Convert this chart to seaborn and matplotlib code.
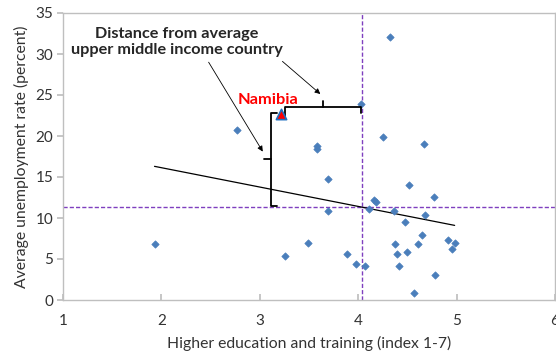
import matplotlib
matplotlib.use("Agg")
import matplotlib.pyplot as plt
import seaborn as sns
import pandas as pd

# Country scores: higher education and training index vs. unemployment rate
education = [1.93, 2.77, 3.26, 3.49, 3.58, 3.58, 3.69, 3.69, 3.89, 3.98,
             4.07, 4.03, 4.32, 4.25, 4.67, 4.16, 4.18, 4.11, 4.36, 4.52,
             4.77, 4.68, 4.48, 4.65, 4.37, 4.61, 4.39, 4.50, 4.41, 4.91,
             4.95, 4.98, 4.78, 4.57]
unemployment = [6.8, 20.7, 5.4, 6.9, 18.8, 18.4, 14.7, 10.8, 5.6, 4.4,
                4.1, 23.9, 32.1, 19.9, 19.0, 12.2, 11.95, 11.1, 10.9, 14.0,
                12.6, 10.4, 9.5, 7.9, 6.8, 6.8, 5.6, 5.9, 4.1, 7.3,
                6.2, 6.9, 3.0, 0.9]

# Highlighted country
namibia_name = "Namibia"
namibia_x = 3.22
namibia_y = 22.7

# Upper middle income averages
avg_education = 4.04
avg_unemployment = 11.3

# Linear trend endpoints
trend_x = [1.93, 4.98]
trend_y = [16.3, 9.1]

x_ticks = [1, 2, 3, 4, 5, 6]
y_ticks = [0, 5, 10, 15, 20, 25, 30, 35]

df = pd.DataFrame({"education": education, "unemployment": unemployment})

sns.set_theme(style="white")
plt.rcParams["font.family"] = ["Lato", "DejaVu Sans"]

fig = plt.figure(figsize=(5.56, 3.58), dpi=100)
ax = fig.add_axes([63 / 556, 1 - 300 / 358, 492 / 556, 287 / 358])

sns.scatterplot(data=df, x="education", y="unemployment", ax=ax,
                marker="D", s=14, color="#4A7EBB", edgecolor="#4A7EBB",
                linewidth=0.5, zorder=3)

# Namibia marker
ax.scatter([namibia_x], [namibia_y], marker="^", s=55, color="#FF0000",
           edgecolor="#1F6FC0", linewidth=1.2, zorder=4)
ax.text(namibia_x - 0.14, namibia_y + 1.75, namibia_name, color="#FF0000",
        fontsize=11.8, fontweight="bold", ha="center", va="center")

# Average reference lines
purple = "#7F3FBF"
ax.axhline(avg_unemployment, color=purple, lw=1.0, ls=(0, (3, 1.5)), zorder=2)
ax.axvline(avg_education, color=purple, lw=1.0, ls=(0, (3, 1.5)), zorder=2)

# Trend line
ax.plot(trend_x, trend_y, color="black", lw=0.9, zorder=2)

# Vertical brace: distance in unemployment
bx = namibia_x - 0.11
y_top = namibia_y + 0.15
y_bot = avg_unemployment + 0.15
y_mid = (y_top + y_bot) / 2
ax.plot([bx + 0.06, bx, bx, bx + 0.06], [y_top, y_top, y_bot, y_bot],
        color="black", lw=1.3, zorder=3)
ax.plot([bx, bx - 0.07], [y_mid, y_mid], color="black", lw=1.3, zorder=3)

# Horizontal brace: distance in education
by = namibia_y + 0.87
x_left = namibia_x + 0.04
x_right = avg_education - 0.01
x_mid = (x_left + x_right) / 2
ax.plot([x_left, x_left, x_right, x_right], [by - 1.2, by, by, by - 0.8],
        color="black", lw=1.3, zorder=3)
ax.plot([x_mid, x_mid], [by, by + 0.65], color="black", lw=1.3, zorder=3)

# Annotation text and arrows
ax.text(2.16, 31.5, "Distance from average\nupper middle income country",
        fontsize=11.7, fontweight="bold", ha="center", va="center",
        linespacing=1.2)
arrow = dict(arrowstyle="-|>", color="black", lw=0.6,
             mutation_scale=8, shrinkA=0, shrinkB=0)
ax.annotate("", xy=(bx - 0.08, y_mid + 0.95), xytext=(2.48, 29.0),
            arrowprops=arrow)
ax.annotate("", xy=(x_mid - 0.03, by + 1.55), xytext=(3.23, 29.1),
            arrowprops=arrow)

ax.set_xlim(1, 6)
ax.set_ylim(0, 35)
ax.set_xticks(x_ticks)
ax.set_yticks(y_ticks)
ax.set_xlabel("Higher education and training (index 1-7)", fontsize=11.3,
              color="#333333", labelpad=6)
ax.set_ylabel("Average unemployment rate (percent)", fontsize=11.3,
              color="#333333", labelpad=5)

for side in ["left", "bottom", "top", "right"]:
    ax.spines[side].set_visible(True)
    ax.spines[side].set_color("#BFBFBF")
    ax.spines[side].set_linewidth(1.0)

ax.tick_params(axis="x", direction="in", length=4, color="#BFBFBF",
               labelsize=11, labelcolor="#333333", pad=10)
ax.tick_params(axis="y", direction="out", length=4, color="#BFBFBF",
               labelsize=11, labelcolor="#333333", pad=3, left=True)
ax.tick_params(axis="x", bottom=True)

fig.savefig("out.png", dpi=100)
